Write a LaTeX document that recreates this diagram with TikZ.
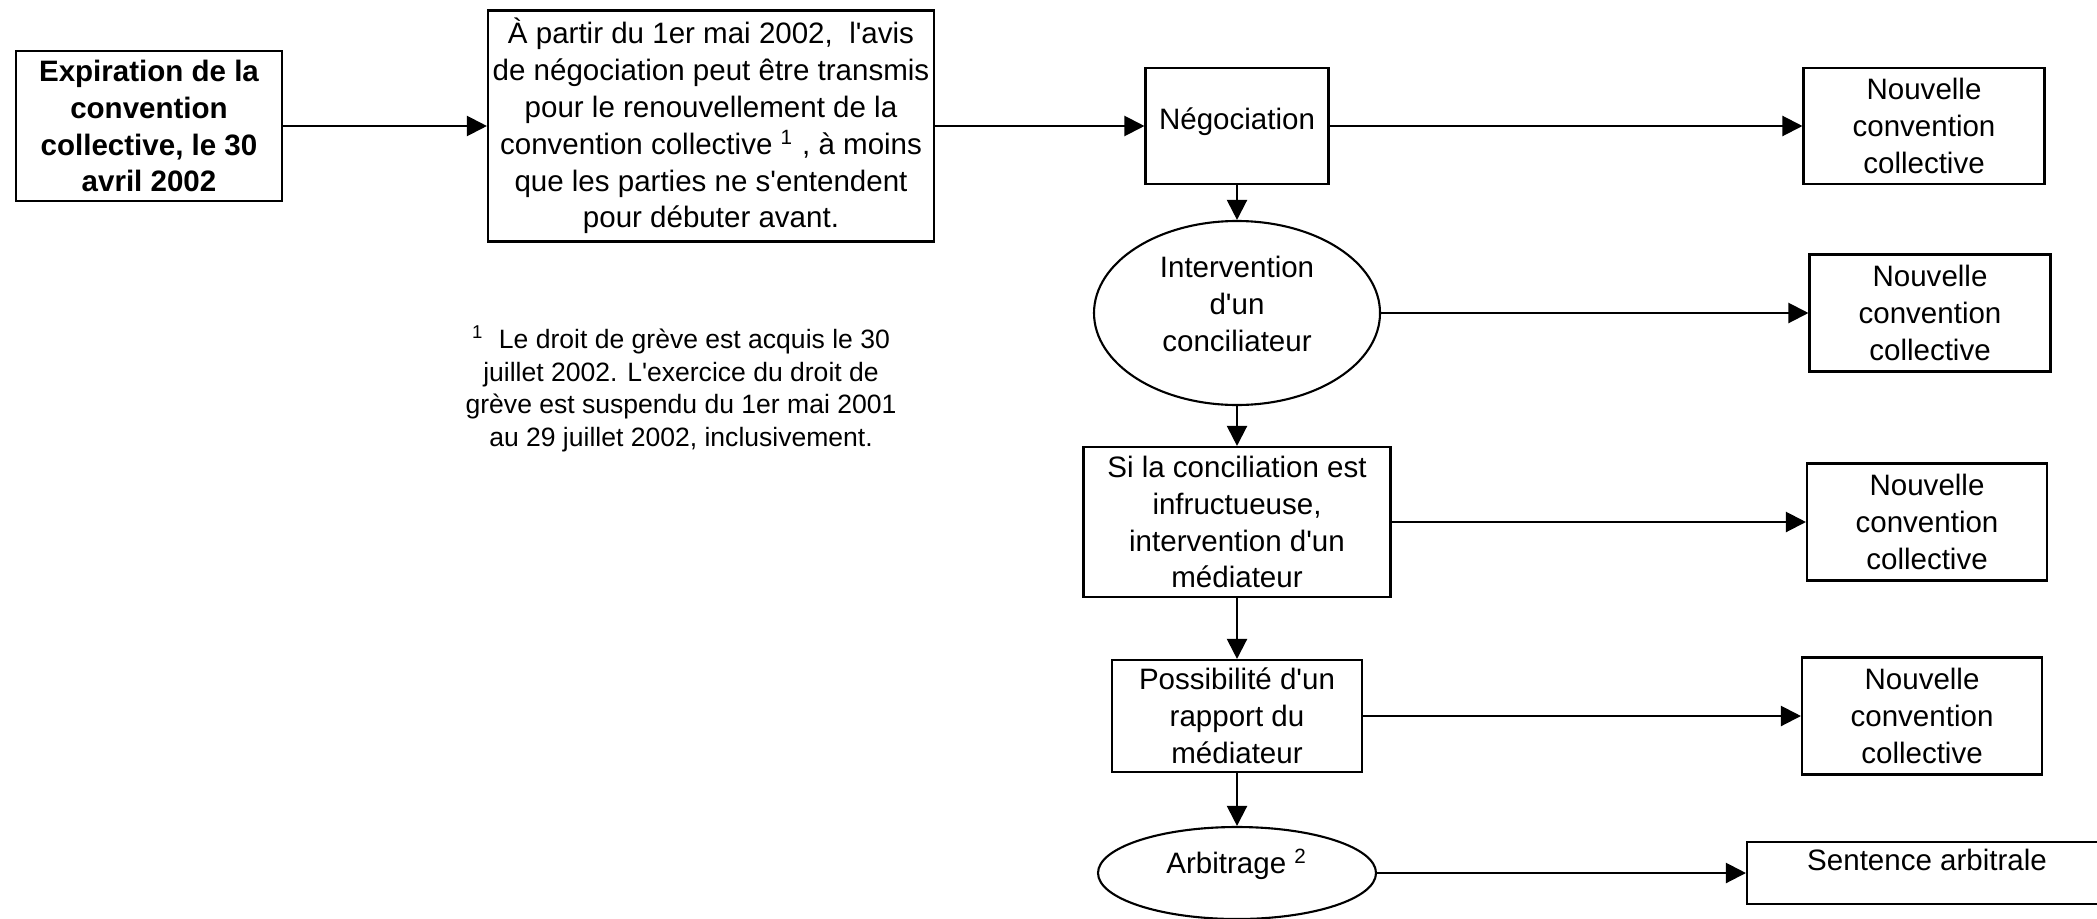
\documentclass[tikz,border=0pt]{standalone}
\usepackage{fontspec}
\setmainfont{Liberation Sans}[Ligatures=TeXOff]
\usetikzlibrary{arrows.meta,shapes,positioning}

\tikzset{
  box/.style={draw, rectangle, align=center, inner sep=0pt, line width=0.6pt},
  oval/.style={draw, ellipse, align=center, inner sep=0pt, line width=0.6pt},
  flow/.style={-{Triangle[length=0.2cm,width=0.2cm]}, line width=0.6pt}
}

\begin{document}
\fontsize{8.4}{10.5}\selectfont
\begin{tikzpicture}
      \useasboundingbox (0,0) rectangle (20.97,-9.18);
      \node[box, font=\bfseries, minimum width=2.66cm, minimum height=1.5cm]
                        (expiration) at (1.49,-1.26)
                        {Expiration de la\\convention\\collective, le 30\\avril 2002};
      \node[box, minimum width=4.46cm, minimum height=2.31cm]  (avisNego)
                        [right of=expiration, node distance=5.62cm]
                        {À partir du 1er mai 2002, \ l'avis\\de négociation peut être transmis\\pour le renouvellement de la\\convention collective \textsuperscript{1} , à moins\\que les parties ne s'entendent\\pour débuter avant.};
      \node[box, minimum width=1.83cm, text height=0.61cm, text depth=0.55cm]
                        (negociation) [right of=avisNego, node distance=5.26cm] {Négociation};
      \node[box, minimum width=2.41cm, minimum height=1.16cm]  (nouvelle1)
                        [right of=negociation, node distance=6.87cm] {Nouvelle\\convention\\collective};

      \node[oval, minimum width=2.86cm, minimum height=1.84cm]  (conciliateur)
                        [below of=negociation, node distance=1.87cm]
                        {Intervention\\d'un\\conciliateur\rule[-0.18cm]{0pt}{0pt}};
      \node[box, minimum width=2.41cm, minimum height=1.17cm]  (nouvelle2)
                        [right of=conciliateur, node distance=6.93cm] {Nouvelle\\convention\\collective};

      \node[box, minimum width=3.07cm, minimum height=1.5cm]   (mediateur)
                        [below of=conciliateur, node distance=2.09cm]
                        {Si la conciliation est\\infructueuse,\\intervention d'un\\médiateur};
      \node[box, minimum width=2.4cm, minimum height=1.17cm]   (nouvelle3)
                        [right of=mediateur, node distance=6.9cm] {Nouvelle\\convention\\collective};

      \node[box, minimum width=2.5cm, minimum height=1.12cm]   (rapport)
                        [below of=mediateur, node distance=1.94cm]
                        {Possibilité d'un\\rapport du\\médiateur};
      \node[box, minimum width=2.4cm, minimum height=1.17cm]   (nouvelle4)
                        [right of=rapport, node distance=6.85cm] {Nouvelle\\convention\\collective};

      \node[oval, minimum width=2.78cm, minimum height=0.92cm,
            text height=0.22cm, text depth=0.22cm]             (arbitrage)
                        [below of=rapport, node distance=1.57cm] {Arbitrage \textsuperscript{2}};
      \node[box, minimum width=3.6cm, text height=0.28cm, text depth=0.34cm]
                        (sentence) [right of=arbitrage, node distance=6.9cm] {Sentence arbitrale};

      \node[align=center, font=\fontsize{7.55}{9.25}\selectfont]  (noteGreve)
                        [below of=avisNego, node distance=2.63cm, xshift=-0.3cm]
                        {\textsuperscript{1}\ \ Le droit de grève est acquis le 30\\juillet 2002. L'exercice du droit de\\grève est suspendu du 1er mai 2001\\au 29 juillet 2002, inclusivement.};

      \draw[flow] (expiration) -- (avisNego);
      \draw[flow] (avisNego) -- (negociation);
      \draw[flow] (negociation) -- (nouvelle1);
      \draw[flow] (negociation) -- (conciliateur);
      \draw[flow] (conciliateur) -- (nouvelle2);
      \draw[flow] (conciliateur) -- (mediateur);
      \draw[flow] (mediateur) -- (nouvelle3);
      \draw[flow] (mediateur) -- (rapport);
      \draw[flow] (rapport) -- (nouvelle4);
      \draw[flow] (rapport) -- (arbitrage);
      \draw[flow] (arbitrage) -- (sentence);
\end{tikzpicture}
\end{document}
